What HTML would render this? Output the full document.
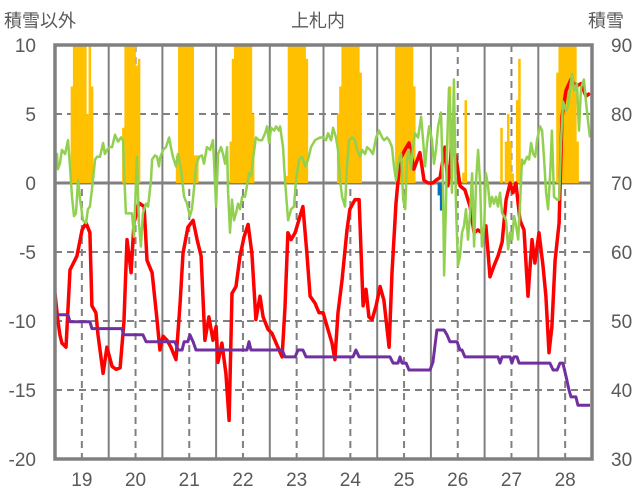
<!DOCTYPE html>
<html><head><meta charset="utf-8"><style>
html,body{margin:0;padding:0;background:#fff;}
svg{display:block;font-family:"Liberation Sans","Noto Sans CJK JP",sans-serif;}
</style></head><body>
<svg id="chart" width="636" height="501" viewBox="0 0 636 501" xmlns="http://www.w3.org/2000/svg">
<defs><clipPath id="plotclip"><rect x="55" y="45" width="537" height="414"/></clipPath></defs>
<g id="grid"></g>
<g id="bars" clip-path="url(#plotclip)"></g>
<g id="lines" clip-path="url(#plotclip)"></g>
<rect x="55" y="45" width="537" height="414" fill="none" stroke="#808080" stroke-width="3.5"/>
<g id="labels" fill="#595959" font-size="19"></g>
<text x="4" y="27" font-size="18" fill="#595959">積雪以外</text>
<text x="318" y="27" font-size="18" fill="#595959" text-anchor="middle">上札内</text>
<text x="588" y="27" font-size="18" fill="#595959">積雪</text>
</svg>
<script>
const leftTicks=[10,5,0,-5,-10,-15,-20];
const rightTicks=[90,80,70,60,50,40,30];
const dayLabels=["19","20","21","22","23","24","25","26","27","28"];
const barHours=[7,8,9,10,11,12,13,14,15,16,30,31,32,33,34,35,36,37,54,55,56,57,58,59,60,61,62,63,78,79,80,81,82,83,84,85,86,87,88,103,104,105,106,107,108,109,110,111,112,126,127,128,129,130,131,132,133,134,135,136,152,153,154,155,156,157,158,159,160,176,182,183,199,201,202,203,204,206,207,224,225,226,227,228,229,230,231,232,233];
const barVals=[84,95,95,95,95,95,95,80,95,84,78,95,95,95,95,95,87,88,74,95,95,95,95,95,95,95,74,74,76,88,95,95,95,95,95,95,95,95,80,71,95,95,95,95,95,95,95,95,88,80,84,95,95,95,95,95,95,95,95,86,95,95,95,95,95,95,95,95,84,84,71.5,82,78,76,80,76,71.4,82,88,86,95,95,95,95,95,95,95,95,76];
const blueHours=[171,172];
const blueVals=[-0.9,-2.0];
const redT=[0,1.3,2.2,3.1,4.9,6.7,9.8,12.1,13.9,15.6,16.5,18.3,19.2,21.5,23.2,25.5,27.3,29.1,30.8,32.2,34,35.3,37.5,39.8,41.1,43.4,45.6,46.9,48.3,50.1,51.8,54.1,55.9,57.2,59.4,61.7,63.5,65.3,67,68.8,70.6,72,72.8,74.6,76.4,77.8,79.1,80.9,82.7,84.5,86.3,88,89.8,91.6,93,95.2,97,98.8,101.5,102.8,104.1,105.5,107.3,108.6,110.8,112.6,114,116.2,118,119.8,121.6,123.8,125.1,126.5,128.3,130.5,131.8,134.1,135.9,137.7,139,140.3,141.7,143.5,145.3,147,149.3,150.6,152.4,154.2,156.4,158.2,160.4,163.1,164.9,166.7,168.9,170.3,172.1,174.3,175.6,177.4,179.2,181,183.2,185.5,187.3,189,190.8,192.6,194.4,196.2,198,199.8,201.6,203.4,204.7,206,207.8,209.6,211.4,213.2,214.5,216.3,218.1,219.4,220.8,222.1,223.5,225.3,226.6,228.4,230.6,232.8,235.1,237.3,239.1];
const redV=[-8,-10,-11,-11.6,-11.9,-6.3,-5.3,-3.4,-2.9,-3.6,-8.9,-9.4,-11,-13.8,-11.9,-13.3,-13.5,-13.4,-10.1,-4.1,-6.5,-2.9,-1.45,-1.7,-5.6,-6.5,-9.9,-12.1,-11.1,-11.4,-11.9,-12.8,-8.7,-5.1,-3.2,-2.7,-4.1,-5.3,-11.4,-9.7,-11.4,-10.4,-13,-11.6,-13.8,-17.2,-8,-7.5,-5.3,-3.9,-3,-5.1,-9.9,-8.2,-9.7,-10.6,-10.9,-11.6,-12.6,-9,-3.6,-4.1,-3.6,-2.9,-1.7,-5.1,-8.2,-8.7,-9.4,-9.4,-10.4,-11.6,-12.8,-9.4,-7,-3.4,-1.9,-1.2,-1.2,-8.9,-7.7,-9.7,-9.9,-8.9,-7.5,-8.5,-11.9,-6.5,-1.45,1.7,2.4,2.9,1,2.2,0.2,0,0,0.2,0.4,2.6,-0.2,2.6,1.9,-0.2,-0.5,-1.7,-3.6,-3.4,-3.6,-3.1,-6.8,-6,-5.3,-4.3,-1.2,0,-0.7,0,-2.7,-3.4,-8.2,-4.1,-5.8,-3.6,-6,-8.2,-12.3,-10.4,-5.6,-2.9,4.8,6.7,7.5,7,7.2,6.3,6.5];
const greenT=[0,0.9,1.3,2.2,3.1,4.5,5.8,6.7,7.6,8.5,9.4,10.3,11.2,12.5,13.9,14.7,15.6,16.5,17.9,18.8,20.1,21.5,22.3,23.2,24.6,25.5,26.8,28.2,29.5,30.4,30.8,31.7,33.1,34.4,35.3,36.6,37.5,38.4,39.3,40.7,41.6,42.9,43.4,44.7,45.6,46.5,46.9,48.3,49.6,51,51.8,52.7,54.1,55,56.3,57.7,59,60.3,61.2,62.1,63,64.4,65.7,66.6,67.9,69.3,70.6,72,72.9,74.2,75.1,76,76.9,77.3,78.2,79.1,80,80.9,81.8,82.7,83.6,84.9,85.8,86.7,87.6,88.5,89.8,91.2,92.5,93.9,94.8,95.7,96.6,97.9,98.8,100.1,100.6,101.9,102.8,104.2,105.5,106.8,107.7,109.1,110.4,111.8,113.1,114.4,116.2,118.5,119.8,121.1,122,123.4,124.3,125.6,126.5,127.4,128.3,129.6,130.5,131.4,132.8,134.1,135,136.3,137.2,138.6,139.5,140.8,142.1,143.5,144.8,146.2,147.1,148.4,149.3,150.6,151.5,152.4,153.3,154.7,155.6,156.5,157.3,158.2,159.1,160,160.9,162.3,163.6,164.5,165.4,166.3,167.2,168.5,169.4,170.3,171.2,172.5,173.4,173.9,174.8,175.2,176.1,177,177.4,178.3,179.2,180.1,181,181.9,182.8,183.7,184.6,185.5,186.4,187.3,188.2,189.1,190,190.8,191.8,192.6,193.5,194.4,195.3,196.2,197.1,198,198.9,199.8,200.7,201.6,202.5,203.4,204.3,205.2,206.1,207,207.9,208.7,209.6,211,211.9,212.8,213.7,214.6,215.4,216.8,217.7,218.6,219.5,220.4,221.3,222.1,223,224.4,225.3,226.2,227.1,228.4,229.3,230.2,231.1,232,233.3,234.2,235.1,236.4,237.3,238.2,239.1];
const greenV=[0.95,2.1,1,1.4,2.4,2.1,3.1,1.2,-1,-2.4,-2.2,0.2,-1.2,-2.7,-2.9,-1.9,-1.7,-0.5,1.7,1.9,1.9,2.9,2.1,2.4,2.6,2.6,3.5,3,3.3,3.1,1.2,-2.2,-2.2,-2.2,-3.9,1.9,-2.9,-4.6,-2.2,-1.5,-1.7,0.2,1.7,2,1.9,1.2,1.8,2.4,2.6,3.3,2.6,1.9,1.2,2.1,1,-1,-1.5,-2.4,-1.9,-0.5,1.2,1.9,2,1.4,2.6,2.4,3.1,-1.7,2.1,2.6,2.1,1.4,2.6,-0.5,-3.6,-1.2,-2.7,-2.2,-1.5,-1.9,-1,-1,-0.2,0.7,0.5,1.7,3.3,3.1,3.1,3.6,4.1,2.9,4,3.8,4.1,3.8,4.1,2.6,0.2,-2.7,-1.9,-1.7,0.2,1.7,1.9,1.2,1.7,2.6,3.1,3.3,3.3,3.1,3.6,3.1,4,3.3,2.4,0.2,-1,-1.7,1.2,3.1,3.3,3.1,2.4,1.9,2.4,2.1,2.6,2.4,2.1,3.3,3.8,3.3,3.1,3.3,3.1,2.6,1.2,0.2,1.4,2.1,-1.2,-1.9,1.7,2.4,1,2.6,3.6,3.3,4.8,3.1,1.2,2.9,4.1,3.1,1.4,2.4,4.1,5.1,-0.2,-6.7,-1.2,2.6,6.9,4.1,-0.7,7.5,-1.7,-6,-5.3,-3.6,-3.1,-1.9,-4.1,-2.2,0.7,-4.6,0.2,2.4,0,-4.6,-3.1,0.7,-0.2,-1.7,-1,-1.5,-1,-1.7,-0.7,-2.2,-2.4,-2.7,-4.8,-3.6,-4.1,-2.4,-3.1,-4.1,-1.2,1.7,1.4,1.9,1.7,2.9,2.1,1.9,3.1,4.1,3.8,1.7,-0.7,-1.9,0.7,3.8,-1,-1.2,-1.2,3.1,5.9,5.2,5.6,6.9,7.9,6.7,7.2,3.8,6.9,7.5,5.9,4.5,3.3];
const snowT=[0,5.8,6.7,15.6,16.5,29.9,30.8,39.3,40.7,53.6,55,56.8,57.7,59.4,60.3,61.7,63,85.8,86.7,87.6,101.5,102.8,107.3,108.6,110.8,112.2,133.2,134.5,135.9,149.7,151.1,153.3,154.2,155.1,156.9,158.2,167.6,168.9,170.7,173.9,175.2,176.5,179.7,181,181.9,183.2,198,198.9,199.8,203.4,204.2,205.1,206.5,207.4,221.2,222.6,224.4,225.7,227,228.4,229.7,230.6,232.8,233.7,239.1];
const snowV=[50.9,50.9,49.9,49.9,48.9,48.9,48,48,47,47,45.8,45.8,47,47,48,47,45.8,45.8,47,45.8,45.8,44.8,44.8,45.8,45.8,44.8,44.8,45.8,44.8,44.8,43.9,43.9,44.8,43.9,43.9,42.9,42.9,44,48.7,48.7,48,47,47,45.8,45.8,44.8,44.8,43.9,44.8,44.8,43.9,44.8,44.8,43.9,43.9,42.9,42.9,43.9,43.9,42,40,39,39,37.8,37.8];

const NS='http://www.w3.org/2000/svg';
const PX0=55,PW=537,PT=45,PH=414,HOURS=240;
function X(t){return PX0+t*PW/HOURS;}
function YL(v){return PT+(10-v)*PH/30;}
function YR(v){return PT+(90-v)*PH/60;}
function mk(tag,attrs,parent){const e=document.createElementNS(NS,tag);for(const k in attrs)e.setAttribute(k,attrs[k]);parent.appendChild(e);return e;}
const grid=document.getElementById('grid'),bars=document.getElementById('bars'),lines=document.getElementById('lines'),labels=document.getElementById('labels');

leftTicks.forEach((v,i)=>{
  const y=YL(v);
  if(v!==10&&v!==-20&&v!==0){const l=mk('line',{x1:PX0,x2:PX0+PW,y1:y,y2:y,stroke:'#808080','stroke-width':2,'stroke-dasharray':'7,5'},grid);
  
  }
  const t=mk('text',{x:36,y:y+7,'text-anchor':'end'},labels);t.textContent=String(v);
  
  
});
rightTicks.forEach(v=>{
  const t=mk('text',{x:611,y:YR(v)+7},labels);t.textContent=String(v);
  
  
});
dayLabels.forEach((d,i)=>{
  const xd=X(12+i*24), xs=X(24+i*24);
  const l=mk('line',{x1:xd,x2:xd,y1:PT,y2:PT+PH,stroke:'#808080','stroke-width':2,'stroke-dasharray':'7,5'},grid);
  
  
  if(i<9){const s=mk('line',{x1:xs,x2:xs,y1:PT,y2:PT+PH,stroke:'#808080','stroke-width':2},grid);
  
  }
  const t=mk('text',{x:xd,y:486,'text-anchor':'middle'},labels);t.textContent=d;
  
  
});
const zl=mk('line',{x1:PX0,x2:PX0+PW,y1:YL(0),y2:YL(0),stroke:'#808080','stroke-width':3},grid);



const bw=PW/HOURS;
barHours.forEach((h,i)=>{
  const y=YR(barVals[i]);
  const r=mk('rect',{x:X(h),y:y,width:bw+0.3,height:YR(70)-y,fill:'#FFC000'},bars);
  
  
});
blueHours.forEach((h,i)=>{
  const r=mk('rect',{x:X(h),y:YL(0),width:bw+0.3,height:YL(blueVals[i])-YL(0),fill:'#0070C0'},bars);
  
  
});
function poly(ts,vs,yf,color,w,name){
  const pts=ts.map((t,i)=>X(t).toFixed(1)+','+yf(vs[i]).toFixed(1)).join(' ');
  const p=mk('polyline',{points:pts,fill:'none',stroke:color,'stroke-width':w,'stroke-linejoin':'round'},lines);
  
  
}
poly(redT,redV,YL,'#FF0000',3.5,'red-series-line');
poly(greenT,greenV,YL,'#92D050',2.5,'green-series-line');
poly(snowT,snowV,YR,'#7030A0',3,'snow-depth-line');
</script>
</body></html>
